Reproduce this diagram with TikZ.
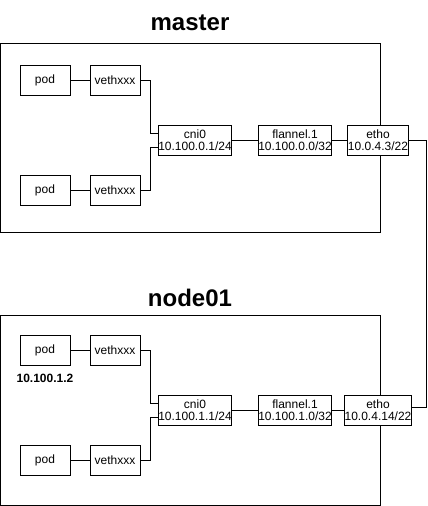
\documentclass[tikz,border=0pt]{standalone}
\usepackage{fontspec}
\setmainfont{Liberation Sans}
\begin{document}
\begin{tikzpicture}[x=1pt,y=-1pt,
  frame/.style={draw=black, line width=1pt},
  box/.style={draw=black, fill=white, line width=1pt, minimum height=30pt, inner sep=0pt, align=center, font=\fontsize{12}{12}\selectfont},
  podbox/.style={box, minimum width=50pt},
  netbox/.style={box, minimum width=70pt},
  ethbox/.style={box, minimum width=56pt},
  title/.style={font=\bfseries\fontsize{24}{24}\selectfont, inner sep=0pt},
  iplabel/.style={font=\bfseries\fontsize{12}{12}\selectfont, inner sep=0pt},
  link/.style={draw=black, line width=1pt}]
\useasboundingbox (0,0) rectangle (428,506);
% ---------- master ----------
\node[title] (t1) at (190,23) {master};
\draw[frame] (0.5,43.5) rectangle (380.5,232.5);
\node[podbox] (p1) at (45,80) {pod};
\node[podbox] (v1) at (115,80) {vethxxx};
\node[podbox] (p2) at (45,190) {pod};
\node[podbox] (v2) at (115,190) {vethxxx};
\node[netbox] (c1) at (195,140) {cni0\\10.100.0.1/24};
\node[netbox] (f1) at (295,140) {flannel.1\\10.100.0.0/32};
\node[ethbox] (e1) at (378,140) {etho\\10.0.4.3/22};
% ---------- node01 ----------
\node[title] (t2) at (190,298) {node01};
\draw[frame] (0.5,315.5) rectangle (380.5,505);
\node[podbox] (p3) at (45,350) {pod};
\node[iplabel] (ip3) at (45,378) {10.100.1.2};
\node[podbox] (v3) at (115,350) {vethxxx};
\node[podbox] (p4) at (45,460) {pod};
\node[podbox] (v4) at (115,460) {vethxxx};
\node[netbox] (c2) at (195,410) {cni0\\10.100.1.1/24};
\node[netbox] (f2) at (295,410) {flannel.1\\10.100.1.0/32};
\node[ethbox] (e2) at (378,410) {etho\\10.0.4.14/22};
% ---------- connectors ----------
\draw[link] (p1.east) -- (v1.west);
\draw[link] (p2.east) -- (v2.west);
\draw[link] (v1.east) -- ++(10,0) |- ([yshift=7pt]c1.west);
\draw[link] (v2.east) -- ++(10,0) |- ([yshift=-7pt]c1.west);
\draw[link] (c1.east) -- (f1.west);
\draw[link] (f1.east) -- (e1.west);
\draw[link] (p3.east) -- (v3.west);
\draw[link] (p4.east) -- (v4.west);
\draw[link] (v3.east) -- ++(10,0) |- ([yshift=7pt]c2.west);
\draw[link] (v4.east) -- ++(10,0) |- ([yshift=-7pt]c2.west);
\draw[link] (c2.east) -- (f2.west);
\draw[link] (f2.east) -- (e2.west);
\draw[link] (e1.east) -- (426.5,140) |- ([yshift=3pt]e2.east);
\end{tikzpicture}
\end{document}
